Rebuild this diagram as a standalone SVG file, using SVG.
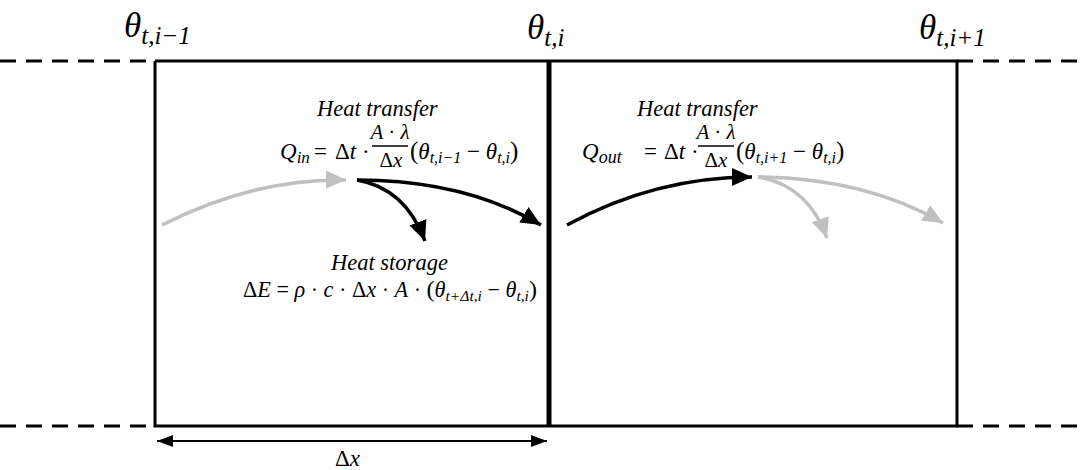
<svg xmlns="http://www.w3.org/2000/svg" width="1081" height="470" viewBox="0 0 1081 470">
<style>
.m{font-family:"Liberation Serif","DejaVu Serif",serif;font-style:italic;fill:#000}
.r{font-family:"Liberation Serif","DejaVu Serif",serif;font-style:normal;fill:#000}
.dash{stroke:#000;stroke-width:3;stroke-dasharray:16 10;fill:none}
.wall{stroke:#000;stroke-width:3;fill:none}
.ab{stroke:#000;stroke-width:3.5;fill:none;marker-end:url(#hb)}
.ag{stroke:#c0c0c0;stroke-width:3.5;fill:none;marker-end:url(#hg)}
</style>
<defs>
<marker id="hb" markerUnits="userSpaceOnUse" markerWidth="20" markerHeight="20" viewBox="0 0 20 20" refX="20" refY="10" orient="auto"><path d="M0,1 L20,10 L0,19 Z" fill="#000"/></marker>
<marker id="hg" markerUnits="userSpaceOnUse" markerWidth="20" markerHeight="20" viewBox="0 0 20 20" refX="20" refY="10" orient="auto"><path d="M0,1 L20,10 L0,19 Z" fill="#c0c0c0"/></marker>
<marker id="da" markerUnits="userSpaceOnUse" markerWidth="16" markerHeight="12" viewBox="0 0 16 12" refX="16" refY="6" orient="auto-start-reverse"><path d="M0,0 L16,6 L0,12 Z" fill="#000"/></marker>
</defs>
<rect width="1081" height="470" fill="#fff"/>

<g id="boundaries">
<path class="dash" d="M0,61 H155 M957,61 H1081 M0,426 H155 M957,426 H1081"/>
</g>

<g id="cell-left">
<path class="wall" d="M155,61 H549 M155,61 V426 H549"/>
</g>
<g id="cell-right">
<path class="wall" d="M549,61 H957 V426 H549"/>
</g>
<g id="interface">
<line x1="549" y1="61" x2="549" y2="426" stroke="#000" stroke-width="5"/>
</g>

<g id="theta-labels">
<text class="m" x="124" y="37" font-size="35">θ<tspan font-size="25" dy="7">t,i−1</tspan></text>
<text class="m" x="527" y="39" font-size="35">θ<tspan font-size="25" dy="7">t,i</tspan></text>
<text class="m" x="919" y="39" font-size="35">θ<tspan font-size="25" dy="7">t,i+1</tspan></text>
</g>

<g id="heat-transfer-in">
<text class="m" x="317" y="116" font-size="22.5">Heat transfer</text>
<text class="m" x="280" y="159" font-size="23">Q<tspan font-size="17" dy="4">in</tspan></text>
<text class="r" x="314" y="159" font-size="23">=</text>
<text class="r" x="335" y="159" font-size="23">Δ<tspan class="m">t</tspan> ·</text>
<text class="m" x="390" y="139" font-size="21" text-anchor="middle">A <tspan class="r">·</tspan> λ</text>
<line x1="372" y1="146" x2="408" y2="146" stroke="#000" stroke-width="1.3"/>
<text class="r" x="391" y="167" font-size="21" text-anchor="middle">Δ<tspan class="m">x</tspan></text>
<text class="r" x="410" y="159" font-size="25">(<tspan class="m" font-size="23">θ</tspan><tspan class="m" font-size="16" dy="4">t,i−1</tspan><tspan dy="-4" font-size="23"> − </tspan><tspan class="m" font-size="23">θ</tspan><tspan class="m" font-size="16" dy="4">t,i</tspan><tspan dy="-4">)</tspan></text>
</g>

<g id="heat-transfer-out">
<text class="m" x="637" y="116" font-size="22.5">Heat transfer</text>
<text class="m" x="582" y="159" font-size="23">Q<tspan font-size="18" dy="4">out</tspan></text>
<text class="r" x="644" y="159" font-size="23">=</text>
<text class="r" x="664" y="159" font-size="23">Δ<tspan class="m">t</tspan> ·</text>
<text class="m" x="716" y="139" font-size="21" text-anchor="middle">A <tspan class="r">·</tspan> λ</text>
<line x1="698" y1="146" x2="734" y2="146" stroke="#000" stroke-width="1.3"/>
<text class="r" x="716" y="167" font-size="21" text-anchor="middle">Δ<tspan class="m">x</tspan></text>
<text class="r" x="736" y="159" font-size="25">(<tspan class="m" font-size="23">θ</tspan><tspan class="m" font-size="16" dy="4">t,i+1</tspan><tspan dy="-4" font-size="23"> − </tspan><tspan class="m" font-size="23">θ</tspan><tspan class="m" font-size="16" dy="4">t,i</tspan><tspan dy="-4">)</tspan></text>
</g>

<g id="heat-storage">
<text class="m" x="331" y="270" font-size="22.5">Heat storage</text>
<text class="r" x="243" y="297" font-size="22.2">Δ<tspan class="m">E</tspan> = <tspan class="m">ρ</tspan> · <tspan class="m">c</tspan> · Δ<tspan class="m">x</tspan> · <tspan class="m">A</tspan> · <tspan font-size="24">(</tspan><tspan class="m">θ</tspan><tspan class="m" font-size="15.5" dy="4">t+Δt,i</tspan><tspan dy="-4"> − </tspan><tspan class="m">θ</tspan><tspan class="m" font-size="15.5" dy="4">t,i</tspan><tspan dy="-4" font-size="24">)</tspan></text>
</g>

<g id="connectors">
<path class="ag" d="M162,225 Q255,178 346,180"/>
<path class="ab" d="M357,180 Q465,180 541,225"/>
<path class="ab" d="M357,180 Q405,188 425,241"/>
<path class="ab" d="M567,225 Q655,177 752,177"/>
<path class="ag" d="M758,177 Q865,178 943,223"/>
<path class="ag" d="M758,177 Q808,185 827,238"/>
<line x1="157" y1="441" x2="547" y2="441" stroke="#000" stroke-width="2" marker-start="url(#da)" marker-end="url(#da)"/>
</g>
<g id="dx-label">
<text class="r" x="335" y="466" font-size="23">Δ<tspan class="m">x</tspan></text>
</g>
</svg>
